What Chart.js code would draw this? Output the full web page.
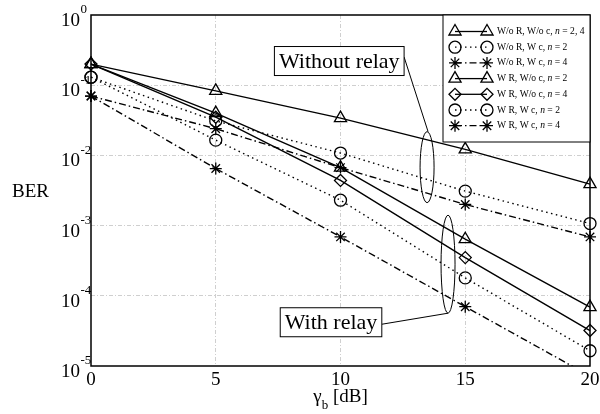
<!DOCTYPE html>
<html>
<head>
<meta charset="utf-8">
<script src="https://cdn.jsdelivr.net/npm/chart.js@4.4.1/dist/chart.umd.min.js"></script>
<style>
  body { margin: 0; background: #fff; }
  canvas { display: block; }
</style>
</head>
<body>
<canvas id="berChart" width="600" height="414"></canvas>
<script>
// SNR points in dB and axis ticks
const snrDb = [0, 5, 10, 15, 20];
const xTicks = [0, 5, 10, 15, 20];
const yTicks = [1, 1e-1, 1e-2, 1e-3, 1e-4, 1e-5];

// BER curves (R = relay, c = cooperation)
const berNoRelayNoCoop = [0.2, 0.083, 0.034, 0.0122, 0.0039];
const berNoRelayCoopN2 = [0.13, 0.031, 0.0108, 0.0031, 0.00107];
const berNoRelayCoopN4 = [0.07, 0.024, 0.0067, 0.0020, 0.00069];
const berRelayNoCoopN2 = [0.2, 0.04, 0.0067, 0.00064, 0.000069];
const berRelayNoCoopN4 = [0.2, 0.035, 0.0044, 0.00035, 0.000032];
const berRelayCoopN2 = [0.13, 0.0165, 0.0023, 0.00018, 0.0000165];
const berRelayCoopN4 = [0.07, 0.0065, 0.00069, 0.00007, 0.0000072];

// legend text, split around the italic n
const legendText = [
    ['W/o R, W/o c, ', ' = 2, 4'],
    ['W/o R, W c, ', ' = 2'],
    ['W/o R, W c, ', ' = 4'],
    ['W R, W/o c, ', ' = 2'],
    ['W R, W/o c, ', ' = 4'],
    ['W R, W c, ', ' = 2'],
    ['W R, W c, ', ' = 4']
];

const SOLID = [];
const DOTTED = [1.5, 3.5];
const DASHDOT = [7, 3, 1.5, 3];
const SERIF = '"Liberation Serif", "Times New Roman", serif';

function curve(values, marker, dash, radius) {
    return {
        data: values,
        borderColor: '#000',
        borderWidth: 1.4,
        borderDash: dash,
        pointStyle: marker,
        pointRadius: radius,
        pointBorderColor: '#000',
        pointBackgroundColor: 'rgba(0,0,0,0)',
        pointBorderWidth: 1.3,
        tension: 0,
        fill: false,
        clip: { left: 12, right: 12, top: 12, bottom: 0 }
    };
}

const datasets = [
    curve(berNoRelayNoCoop, 'triangle', SOLID, 7),
    curve(berNoRelayCoopN2, 'circle', DOTTED, 6),
    curve(berNoRelayCoopN4, 'star', DASHDOT, 6),
    curve(berRelayNoCoopN2, 'triangle', SOLID, 7),
    curve(berRelayNoCoopN4, 'rectRot', SOLID, 6),
    curve(berRelayCoopN2, 'circle', DOTTED, 6),
    curve(berRelayCoopN4, 'star', DASHDOT, 6)
];

// callout boxes with their ellipses (data coordinates, pixel radii)
const callouts = [
    { text: 'Without relay', x: 9.95, y: 0.221, ex: 13.47, ey: 0.0068, rx: 7, ry: 35.5, toTop: true },
    { text: 'With relay', x: 9.62, y: 0.000042, ex: 14.31, ey: 0.000282, rx: 7, ry: 49, toTop: false }
];

const edgeColor = (ctx, lo, hi) => {
    const v = ctx.tick ? ctx.tick.value : null;
    return (v === lo || v === hi) ? 'rgba(0,0,0,0)' : '#cfcfcf';
};

function drawMarker(ctx, style, r, x, y) {
    ctx.save();
    ctx.strokeStyle = '#000';
    ctx.fillStyle = 'rgba(0,0,0,0)';
    ctx.lineWidth = 1.3;
    ctx.setLineDash([]);
    Chart.helpers.drawPoint(ctx, { pointStyle: style, radius: r, rotation: 0, borderWidth: 1.3 }, x, y);
    ctx.restore();
}

const decorations = {
    id: 'decorations',
    afterDraw(chart) {
        const ctx = chart.ctx;
        const area = chart.chartArea;
        const xs = chart.scales.x;
        const ys = chart.scales.y;

        // axes frame
        ctx.save();
        ctx.strokeStyle = '#000';
        ctx.lineWidth = 1.5;
        ctx.strokeRect(area.left, area.top, area.right - area.left, area.bottom - area.top);

        // tick labels
        ctx.fillStyle = '#000';
        ctx.font = '19px ' + SERIF;
        ctx.textAlign = 'center';
        ctx.textBaseline = 'top';
        xTicks.forEach(v => ctx.fillText(String(v), xs.getPixelForValue(v), area.bottom + 5));

        yTicks.forEach(v => {
            const py = ys.getPixelForValue(v);
            const exp = Math.round(Math.log10(v));
            ctx.font = '19px ' + SERIF;
            ctx.textAlign = 'right';
            ctx.textBaseline = 'middle';
            ctx.fillText('10', area.left - 11, py + 6);
            ctx.font = '13px ' + SERIF;
            ctx.textAlign = 'left';
            ctx.fillText(String(exp), area.left - 10.5, py - 5);
        });

        // axis titles
        ctx.font = '19px ' + SERIF;
        ctx.textAlign = 'left';
        ctx.textBaseline = 'alphabetic';
        ctx.fillText('BER', 12, 197);

        const gW = ctx.measureText('γ').width;
        const tW = ctx.measureText(' [dB]').width;
        ctx.font = '13px ' + SERIF;
        const bW = ctx.measureText('b').width;
        let tx = (area.left + area.right) / 2 - (gW + bW + tW) / 2;
        ctx.font = '19px ' + SERIF;
        ctx.fillText('γ', tx, 402);
        ctx.font = '13px ' + SERIF;
        ctx.fillText('b', tx + gW, 409);
        ctx.font = '19px ' + SERIF;
        ctx.fillText(' [dB]', tx + gW + bW, 402);

        // callouts
        ctx.lineWidth = 1;
        callouts.forEach(c => {
            const cx = xs.getPixelForValue(c.ex);
            const cy = ys.getPixelForValue(c.ey);
            ctx.beginPath();
            ctx.ellipse(cx, cy, c.rx, c.ry, 0, 0, Math.PI * 2);
            ctx.stroke();

            ctx.font = '22px ' + SERIF;
            const w = ctx.measureText(c.text).width + 9;
            const h = 29;
            const bx = xs.getPixelForValue(c.x) - w / 2;
            const by = ys.getPixelForValue(c.y) - h / 2;

            ctx.beginPath();
            if (c.toTop) {
                ctx.moveTo(bx + w, by + h / 2 - 4);
                ctx.lineTo(cx + 1, cy - c.ry);
            } else {
                ctx.moveTo(bx + w, by + h / 2 + 2);
                ctx.lineTo(cx, cy + c.ry);
            }
            ctx.stroke();

            ctx.fillStyle = '#fff';
            ctx.fillRect(bx, by, w, h);
            ctx.strokeRect(bx, by, w, h);
            ctx.fillStyle = '#000';
            ctx.textAlign = 'center';
            ctx.textBaseline = 'middle';
            ctx.fillText(c.text, bx + w / 2, by + h / 2 + 1);
        });

        // legend
        const lw = 147, lh = 127;
        const lx = area.right - lw, ly = area.top;
        ctx.fillStyle = '#fff';
        ctx.fillRect(lx, ly, lw, lh);
        ctx.strokeStyle = '#000';
        ctx.lineWidth = 1;
        ctx.strokeRect(lx, ly, lw, lh);

        datasets.forEach((ds, i) => {
            const ry = ly + 16.5 + i * 15.7;
            const m1 = lx + 12, m2 = lx + 44;
            ctx.save();
            ctx.strokeStyle = '#000';
            ctx.lineWidth = 1.3;
            ctx.setLineDash(ds.borderDash);
            ctx.beginPath();
            ctx.moveTo(m1, ry);
            ctx.lineTo(m2, ry);
            ctx.stroke();
            ctx.restore();
            drawMarker(ctx, ds.pointStyle, ds.pointRadius, m1, ry);
            drawMarker(ctx, ds.pointStyle, ds.pointRadius, m2, ry);

            const [pre, post] = legendText[i];
            let px = lx + 54;
            ctx.fillStyle = '#000';
            ctx.textAlign = 'left';
            ctx.textBaseline = 'middle';
            ctx.font = '9.6px ' + SERIF;
            ctx.fillText(pre, px, ry);
            px += ctx.measureText(pre).width;
            ctx.font = 'italic 9.6px ' + SERIF;
            ctx.fillText('n', px, ry);
            px += ctx.measureText('n').width;
            ctx.font = '9.6px ' + SERIF;
            ctx.fillText(post, px, ry);
        });
        ctx.restore();
    }
};

new Chart(document.getElementById('berChart'), {
    type: 'line',
    data: {
        labels: snrDb,
        datasets: datasets
    },
    options: {
        responsive: false,
        animation: false,
        events: [],
        layout: { padding: { left: 91, right: 10, top: 15, bottom: 48 } },
        plugins: {
            legend: { display: false },
            tooltip: { enabled: false }
        },
        scales: {
            x: {
                type: 'linear',
                min: 0,
                max: 20,
                ticks: { display: false, stepSize: 5 },
                afterBuildTicks: s => { s.ticks = xTicks.map(v => ({ value: v })); },
                afterFit: s => { s.height = 0; },
                grid: { color: c => edgeColor(c, 0, 20), lineWidth: 1, drawTicks: false },
                border: { display: false, dash: [4, 2, 1, 2] }
            },
            y: {
                type: 'logarithmic',
                min: 1e-5,
                max: 1,
                ticks: { display: false },
                afterBuildTicks: s => { s.ticks = yTicks.map(v => ({ value: v })); },
                afterFit: s => { s.width = 0; },
                grid: { color: c => edgeColor(c, 1, 1e-5), lineWidth: 1, drawTicks: false },
                border: { display: false, dash: [4, 2, 1, 2] }
            }
        }
    },
    plugins: [decorations]
});
</script>
</body>
</html>
